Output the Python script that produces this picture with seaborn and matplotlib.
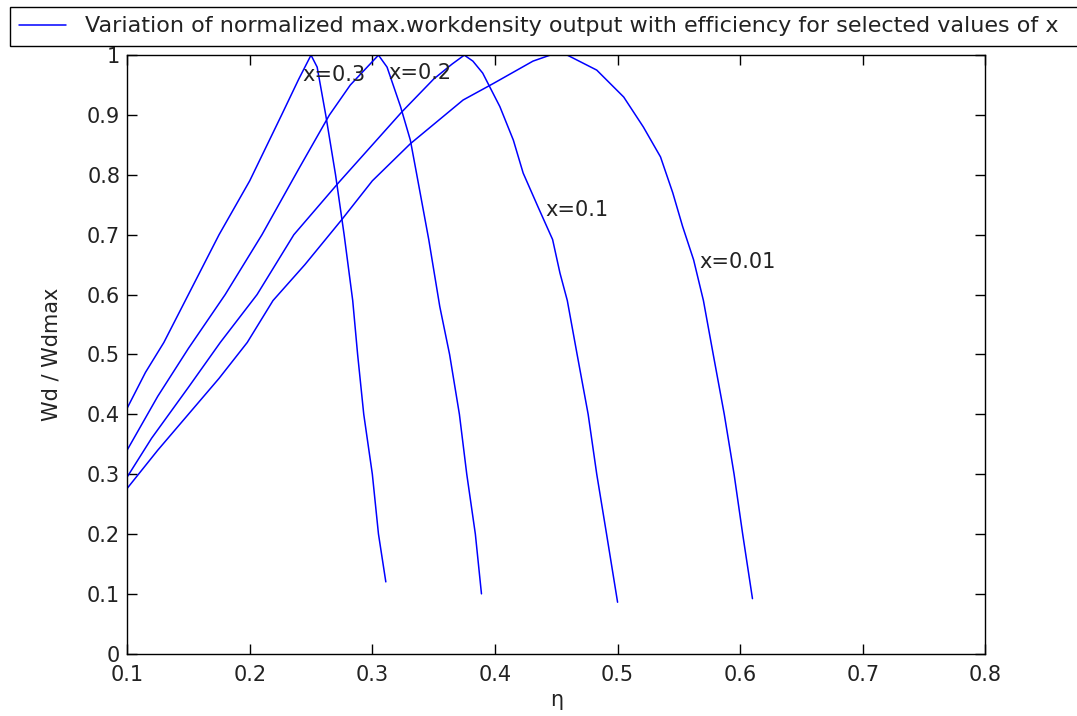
import matplotlib
matplotlib.use("Agg")
import matplotlib.pyplot as plt
import seaborn as sns
import pandas as pd
from matplotlib.ticker import FormatStrFormatter, MultipleLocator

# curves (eta, normalized work density)
eta_x03 = [0.10, 0.115, 0.13, 0.15, 0.175, 0.20, 0.226, 0.24, 0.25, 0.255, 0.262,
           0.270, 0.277, 0.284, 0.288, 0.293, 0.300, 0.305, 0.311]
wd_x03 = [0.41, 0.47, 0.52, 0.60, 0.70, 0.79, 0.90, 0.96, 1.00, 0.98, 0.90,
          0.80, 0.70, 0.59, 0.50, 0.40, 0.30, 0.20, 0.12]

eta_x02 = [0.10, 0.125, 0.15, 0.18, 0.21, 0.24, 0.265, 0.282, 0.305, 0.312, 0.323,
           0.331, 0.336, 0.346, 0.355, 0.363, 0.371, 0.377, 0.384, 0.389]
wd_x02 = [0.34, 0.43, 0.51, 0.60, 0.70, 0.81, 0.90, 0.95, 1.00, 0.98, 0.914,
          0.858, 0.803, 0.692, 0.58, 0.50, 0.40, 0.30, 0.20, 0.10]

eta_x01 = [0.10, 0.12, 0.15, 0.176, 0.206, 0.236, 0.2725, 0.30, 0.324, 0.35, 0.365,
           0.375, 0.382, 0.390, 0.404, 0.415, 0.423, 0.435, 0.447, 0.453, 0.459,
           0.467, 0.476, 0.483, 0.491, 0.50]
wd_x01 = [0.295, 0.36, 0.445, 0.52, 0.60, 0.70, 0.787, 0.85, 0.905, 0.96, 0.985,
          1.00, 0.99, 0.97, 0.914, 0.858, 0.803, 0.747, 0.692, 0.636, 0.59,
          0.50, 0.40, 0.30, 0.20, 0.086]

eta_x001 = [0.10, 0.125, 0.15, 0.175, 0.198, 0.219, 0.245, 0.275, 0.30, 0.331, 0.374,
            0.399, 0.431, 0.445, 0.459, 0.483, 0.505, 0.521, 0.535, 0.545, 0.553,
            0.562, 0.570, 0.578, 0.587, 0.595, 0.602, 0.61]
wd_x001 = [0.276, 0.34, 0.40, 0.46, 0.52, 0.59, 0.65, 0.725, 0.79, 0.852, 0.925,
           0.953, 0.99, 1.00, 1.00, 0.975, 0.93, 0.88, 0.83, 0.77, 0.714,
           0.658, 0.59, 0.50, 0.40, 0.30, 0.20, 0.092]

labels = ["x=0.3", "x=0.2", "x=0.1", "x=0.01"]
label_pos = [(0.243, 0.967), (0.313, 0.97), (0.441, 0.742), (0.567, 0.655)]

curves = [(eta_x03, wd_x03), (eta_x02, wd_x02), (eta_x01, wd_x01), (eta_x001, wd_x001)]

sns.set_style("ticks")
plt.rcParams["font.family"] = ["DejaVu Sans"]

fig = plt.figure(figsize=(10.77, 7.16), dpi=100)
ax = fig.add_axes([0.118, 0.087, 0.797, 0.836])

for i, (e, w) in enumerate(curves):
    df = pd.DataFrame({"eta": e, "wd": w})
    sns.lineplot(data=df, x="eta", y="wd", ax=ax, color="#0000ff", lw=1.1, sort=False,
                 label="Variation of normalized max.workdensity output with efficiency for selected values of x" if i == 0 else None,
                 legend=False)

for txt, (px, py) in zip(labels, label_pos):
    ax.text(px, py, txt, fontsize=15, va="center", ha="left", color="#222222")

ax.set_xlim(0.1, 0.8)
ax.set_ylim(0, 1)
ax.xaxis.set_major_locator(MultipleLocator(0.1))
ax.yaxis.set_major_locator(MultipleLocator(0.1))
ax.xaxis.set_major_formatter(FormatStrFormatter("%g"))
ax.yaxis.set_major_formatter(FormatStrFormatter("%g"))
ax.tick_params(direction="in", length=7, width=1, top=True, right=True,
               labelsize=15, colors="black", labelcolor="#222222", pad=5)
ax.tick_params(axis="x", pad=8)
for s in ax.spines.values():
    s.set_visible(True)
    s.set_color("black")
    s.set_linewidth(1.0)

ax.set_xlabel("η", fontsize=15, labelpad=4, color="#222222")
ax.set_ylabel("Wd / Wdmax", fontsize=15, labelpad=18, color="#222222")

handles, lbls = ax.get_legend_handles_labels()
fig.legend(handles, lbls, loc="upper left", bbox_to_anchor=(10 / 1077, 1 - 7 / 716, 1.1, 0),
           mode="expand", borderaxespad=0, fontsize=16, frameon=True, fancybox=False,
           edgecolor="black", handlelength=2.1, handletextpad=0.85, borderpad=0.42,
           framealpha=1, labelcolor="#222222")

fig.savefig("out.png", dpi=100)
